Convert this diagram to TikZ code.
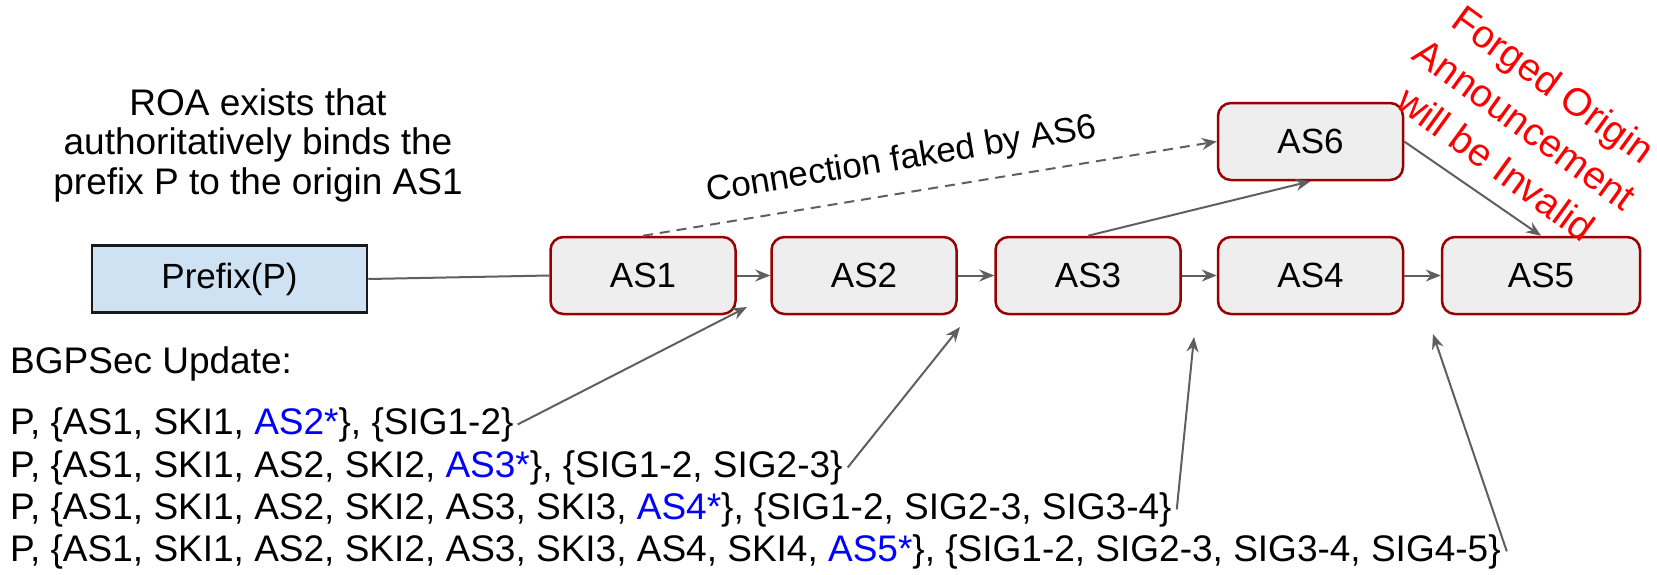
\documentclass[tikz,border=0pt]{standalone}
\usepackage{fontspec}
\setmainfont{Liberation Sans}
\usetikzlibrary{arrows.meta}
\definecolor{asred}{HTML}{990000}
\definecolor{asfill}{HTML}{EEEEEE}
\definecolor{prefill}{HTML}{CFE2F3}
\definecolor{wiregray}{HTML}{5F5F5F}
\definecolor{forged}{HTML}{FF0000}
\definecolor{skiblue}{HTML}{0000FF}

\begin{document}
\begin{tikzpicture}[x=1pt, y=-1pt,
  asbox/.style={draw=asred, fill=asfill, line width=2.5pt, rounded corners=13pt,
    minimum width=185pt, minimum height=77pt, inner sep=0pt,
    font=\fontsize{35}{42}\selectfont},
  prefixbox/.style={draw=black!90, fill=prefill, line width=2.5pt,
    minimum width=275pt, minimum height=67pt, inner sep=0pt,
    font=\fontsize{35}{42}\selectfont},
  txt/.style={inner sep=0pt, font=\fontsize{37}{44}\selectfont},
  plainwire/.style={draw=wiregray, line width=2pt},
  link/.style={plainwire, -{Stealth[length=15pt, width=12pt, inset=5pt]}},
  fakelink/.style={link, dash pattern=on 10pt off 7pt}
]
\useasboundingbox (0,0) rectangle (1657,574);

% prefix and AS chain
\node[prefixbox] (pre) at (229.5,279) {Prefix(P)};
\node[asbox] (as1) at (643,275.5) {AS1};
\node[asbox] (as2) at (864,275.5) {AS2};
\node[asbox] (as3) at (1088,275.5) {AS3};
\node[asbox] (as4) at (1310.5,275.5) {AS4};
\node[asbox, minimum width=198pt] (as5) at (1541,275.5) {AS5};
\node[asbox] (as6) at (1310.5,141.5) {AS6};

% ROA note
\node[txt, anchor=base] (roa1) at (258,115) {ROA exists that};
\node[txt, anchor=base] (roa2) at (258,154) {authoritatively binds the};
\node[txt, anchor=base] (roa3) at (258,194) {prefix P to the origin AS1};

% BGPSec updates
\node[txt, anchor=base west] (bgp) at (10,373) {BGPSec Update:};
\node[txt, anchor=base west] (u1) at (10,434)
  {P, \{AS1, SKI1, \textcolor{skiblue}{AS2*}\}, \{SIG1-2\}};
\node[txt, anchor=base west] (u2) at (10,477)
  {P, \{AS1, SKI1, AS2, SKI2, \textcolor{skiblue}{AS3*}\}, \{SIG1-2, SIG2-3\}};
\node[txt, anchor=base west] (u3) at (10,519)
  {P, \{AS1, SKI1, AS2, SKI2, AS3, SKI3, \textcolor{skiblue}{AS4*}\}, \{SIG1-2, SIG2-3, SIG3-4\}};
\node[txt, anchor=base west] (u4) at (10,561)
  {P, \{AS1, SKI1, AS2, SKI2, AS3, SKI3, AS4, SKI4, \textcolor{skiblue}{AS5*}\}, \{SIG1-2, SIG2-3, SIG3-4, SIG4-5\}};

% forged-origin warning
\node[txt, text=forged, align=center, rotate=-36, font=\fontsize{39}{49}\selectfont]
  (warn) at (1525,124) {Forged Origin\\Announcement\\will be Invalid};

% connectors
\draw[plainwire] (pre.east) -- (as1.west);
\draw[link] (as1.east) -- (as2.west);
\draw[link] (as2.east) -- (as3.west);
\draw[link] (as3.east) -- (as4.west);
\draw[link] (as4.east) -- (as5.west);
\draw[link] (as3.north) -- (as6.south);
\draw[link] (as6.east) -- (as5.north);
\draw[fakelink] (as1.north) --
  node[pos=0.46, sloped, above=15pt, inner sep=0pt, font=\fontsize{35}{42}\selectfont]
  {Connection faked by AS6} (as6.west);

% update pointers
\coordinate (tip1) at (747,307);
\coordinate (tip2) at (960,327);
\coordinate (tip3) at (1194,337);
\coordinate (tip4) at (1433,334);
\draw[link] ([xshift=4pt]u1.east) -- (tip1);
\draw[link] ([xshift=5pt]u2.east) -- (tip2);
\draw[link] ([xshift=5pt]u3.east) -- (tip3);
\draw[link] ([xshift=6pt]u4.east) -- (tip4);
\end{tikzpicture}
\end{document}
